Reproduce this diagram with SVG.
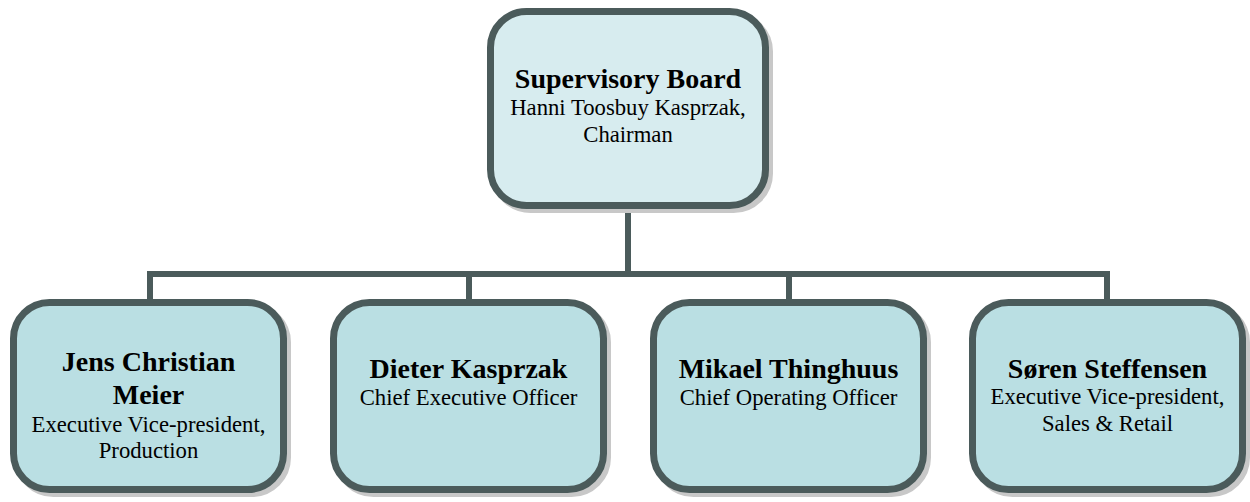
<svg xmlns="http://www.w3.org/2000/svg" width="1250" height="502" viewBox="0 0 1250 502">
<style>
.box{stroke:#4b5b5b;stroke-width:7}
.top{fill:#d7ecef}
.sub{fill:#badfe3}
.shadow{fill:#b8b8b8;stroke:#c8c8c8;stroke-width:7}
.conn{fill:none;stroke:#4b5b5b;stroke-width:6}
text{font-family:"Liberation Serif","Times New Roman",serif;text-anchor:middle;fill:#000}
.b{font-weight:bold;font-size:28px}
.r{font-size:22.7px}
</style>
<rect width="1250" height="502" fill="#fff"/>
<g id="connectors">
<path class="conn" d="M628 209V274M150 302V274H1107V302M469 274V302M789 274V302"/>
</g>
<g id="supervisory-board">
<rect class="shadow" x="494.5" y="15.5" width="275" height="194" rx="36"/>
<rect class="box top" x="490.5" y="11.5" width="275" height="194" rx="36"/>
<text class="b" x="628" y="88">Supervisory Board</text>
<text class="r" x="628" y="115">Hanni Toosbuy Kasprzak,</text>
<text class="r" x="628" y="142">Chairman</text>
</g>
<g id="jens-christian-meier">
<rect class="shadow" x="17.5" y="306.5" width="270" height="187" rx="36"/>
<rect class="box sub" x="13.5" y="302.5" width="270" height="187" rx="36"/>
<text class="b" x="148.5" y="371">Jens Christian</text>
<text class="b" x="148.5" y="404">Meier</text>
<text class="r" x="148.5" y="432">Executive Vice-president,</text>
<text class="r" x="148.5" y="458">Production</text>
</g>
<g id="dieter-kasprzak">
<rect class="shadow" x="337.5" y="306.5" width="270" height="187" rx="36"/>
<rect class="box sub" x="333.5" y="302.5" width="270" height="187" rx="36"/>
<text class="b" x="468.5" y="378">Dieter Kasprzak</text>
<text class="r" x="468.5" y="405">Chief Executive Officer</text>
</g>
<g id="mikael-thinghuus">
<rect class="shadow" x="657.5" y="306.5" width="270" height="187" rx="36"/>
<rect class="box sub" x="653.5" y="302.5" width="270" height="187" rx="36"/>
<text class="b" x="788.5" y="378">Mikael Thinghuus</text>
<text class="r" x="788.5" y="405">Chief Operating Officer</text>
</g>
<g id="soren-steffensen">
<rect class="shadow" x="976.5" y="306.5" width="270" height="187" rx="36"/>
<rect class="box sub" x="972.5" y="302.5" width="270" height="187" rx="36"/>
<text class="b" x="1107.5" y="378">Søren Steffensen</text>
<text class="r" x="1107.5" y="404">Executive Vice-president,</text>
<text class="r" x="1107.5" y="431">Sales &amp; Retail</text>
</g>
</svg>
